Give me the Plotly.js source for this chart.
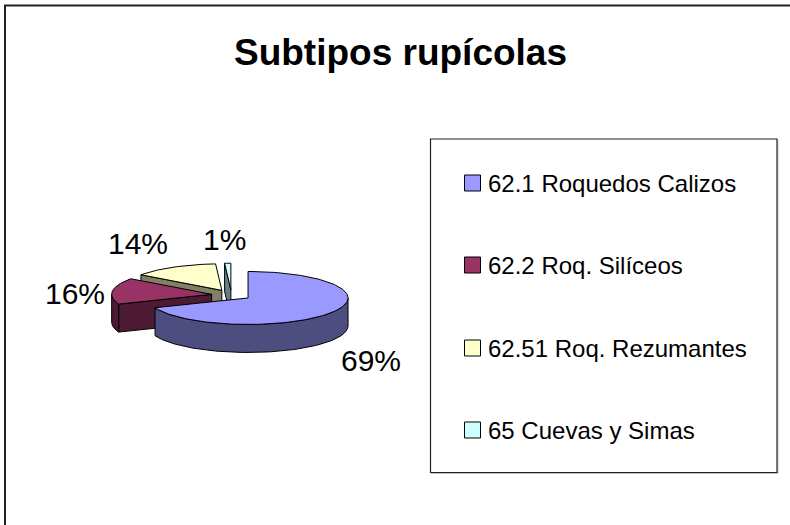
<!DOCTYPE html>
<html><head><meta charset="utf-8">
<script src="https://cdn.plot.ly/plotly-3.0.1.min.js"></script>
<style>html,body{margin:0;padding:0;background:#fff}#c{width:790px;height:525px}</style>
</head><body><div id="c"></div>
<script>
var categories = ['62.1 Roquedos Calizos','62.2 Roq. Silíceos','62.51 Roq. Rezumantes','65 Cuevas y Simas'];
var values = [69,16,14,1];
var topColors = ['#9999FF','#993366','#FFFFCC','#CCFFFF'];
var wallColors = ['#4D4D80','#4D1A33','#808066','#668080'];
var chartTitle = 'Subtipos rupícolas';

// projection of the tilted pie onto pixel-scaled axes
var CX=231.5, CY=295, RX=100, RY=26.5, DEPTH=28, EXPLODE=0.2;
var FONT='"Liberation Sans", Arial, sans-serif';

var total = values.reduce(function(a,b){return a+b;},0);
var slices = [], acc = 0;
values.forEach(function(v,i){
  var a0 = acc/total*2*Math.PI; acc += v;
  var a1 = acc/total*2*Math.PI, mid=(a0+a1)/2;
  slices.push({i:i,a0:a0,a1:a1,
    ox:CX+EXPLODE*RX*Math.sin(mid), oy:CY-EXPLODE*RY*Math.cos(mid)});
});
function pt(s,a,d){return [s.ox+RX*Math.sin(a), s.oy-RY*Math.cos(a)+(d||0)];}
function arc(s,a0,a1,d){
  var n=Math.max(2,Math.ceil(Math.abs(a1-a0)/0.03)),r=[];
  for(var k=0;k<=n;k++) r.push(pt(s,a0+(a1-a0)*k/n,d));
  return r;
}
function poly(points,color,name){
  var xs=points.map(function(p){return p[0];}), ys=points.map(function(p){return p[1];});
  xs.push(xs[0]); ys.push(ys[0]);
  return {type:'scatter',mode:'lines',x:xs,y:ys,fill:'toself',fillcolor:color,
    line:{color:'#000',width:1},name:name,showlegend:false,hoverinfo:'name'};
}
var traces=[];
[3,2,1,0].forEach(function(idx){
  var s=slices[idx], name=categories[idx];
  var apex=[s.ox,s.oy], apexLow=[s.ox,s.oy+DEPTH];
  // radial wall on the starting edge, when it faces the viewer
  if(idx>0){
    traces.push(poly([pt(s,s.a0),pt(s,s.a0,DEPTH),apexLow,apex],wallColors[idx],name));
  }
  // outer rim where it faces the viewer
  var r0=Math.max(s.a0,Math.PI/2), r1=Math.min(s.a1,3*Math.PI/2);
  if(r1>r0){
    traces.push(poly(arc(s,r0,r1,0).concat(arc(s,r1,r0,DEPTH)),wallColors[idx],name));
  }
  traces.push(poly([apex].concat(arc(s,s.a0,s.a1,0)),topColors[idx],name));
});
// legend swatches
var legendX=472.5, legendY=[183,265,348,430];
legendY.forEach(function(y,i){
  traces.push({type:'scatter',mode:'markers',x:[legendX],y:[y],name:categories[i],showlegend:false,
    hoverinfo:'name',marker:{symbol:'square',size:16,color:topColors[i],line:{color:'#000',width:1}}});
});
var ann=[];
categories.forEach(function(c,i){
  ann.push({x:485.5,y:legendY[i],xref:'x',yref:'y',text:c,showarrow:false,xanchor:'left',yanchor:'middle',
    font:{family:FONT,size:24,color:'#000'}});
});
var pctPos=[[371,360],[75,293],[138,243],[224,239]];
values.forEach(function(v,i){
  ann.push({x:pctPos[i][0],y:pctPos[i][1],xref:'x',yref:'y',text:Math.round(v/total*100)+'%',showarrow:false,
    xanchor:'center',yanchor:'middle',font:{family:FONT,size:30,color:'#000'}});
});
function seg(x0,y0,x1,y1,color,w){
  return {type:'line',xref:'x',yref:'y',x0:x0,y0:y0,x1:x1,y1:y1,line:{color:color,width:w},layer:'below'};
}
var layout={
  width:790,height:525,margin:{l:0,r:0,t:0,b:0},paper_bgcolor:'#fff',plot_bgcolor:'#fff',showlegend:false,
  title:{text:chartTitle,x:400.5/790,xanchor:'center',y:1-52/525,yanchor:'middle',
    font:{family:FONT,size:37,color:'#000',weight:'bold'}},
  xaxis:{range:[0,790],visible:false,fixedrange:true},
  yaxis:{range:[525,0],visible:false,fixedrange:true},
  annotations:ann,
  shapes:[
    seg(778,140,778,474,'#c0c0c0',1), seg(431,473.5,778,473.5,'#c0c0c0',1),
    {type:'rect',xref:'x',yref:'y',x0:430.5,x1:777,y0:139,y1:472.5,line:{color:'#222',width:1.2},layer:'below'},
    seg(5,5,5,525,'#222',2), seg(4,5.5,790,5.5,'#222',2)
  ]
};
Plotly.newPlot('c',traces,layout,{displayModeBar:false,staticPlot:true});
</script></body></html>
